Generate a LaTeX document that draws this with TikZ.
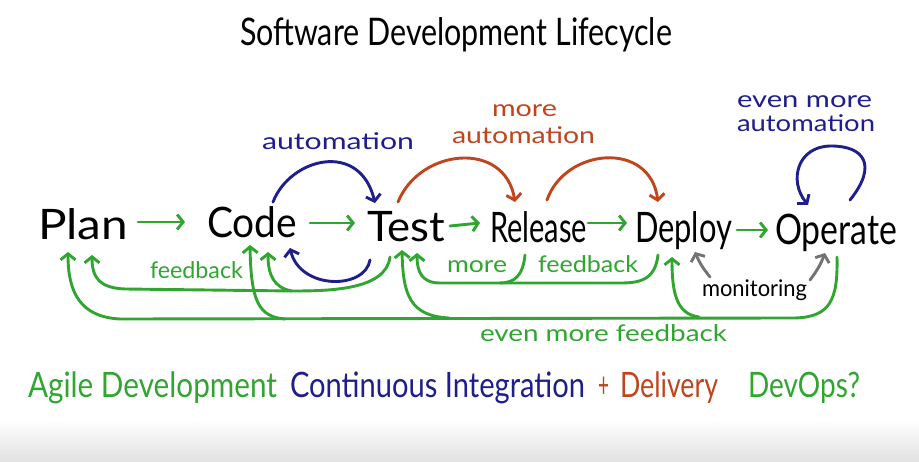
\documentclass[tikz,border=0pt]{standalone}
\usepackage{fontspec}
\setmainfont{Lato}
\usepackage{graphicx}
\usetikzlibrary{arrows.meta,calc}
\definecolor{hgreen}{RGB}{48,165,48}
\definecolor{hblue}{RGB}{30,30,140}
\definecolor{horange}{RGB}{192,68,28}
\definecolor{hgray}{RGB}{115,115,115}
\newcommand{\fitw}[2]{\resizebox{#1pt}{\height}{#2}}
\begin{document}
\begin{tikzpicture}[x=1pt,y=-1pt,
  every node/.style={inner sep=0pt,outer sep=0pt,anchor=base west},
  stage/.style={font=\fontsize{42}{42}\selectfont,text=black},
  lbl/.style={font=\fontsize{23}{23}\selectfont},
  big/.style={font=\fontsize{35}{35}\selectfont},
  tipb/.style={-{Straight Barb[length=6pt,width=15pt]}},
  fwd/.style={draw=hgreen,line width=2.9pt,line cap=round,tipb},
  fbk/.style={draw=hgreen,line width=2.9pt,line cap=round,line join=round},
  autob/.style={draw=hblue,line width=2.9pt,line cap=round,tipb},
  autoo/.style={draw=horange,line width=2.9pt,line cap=round,tipb},
  mon/.style={draw=hgray,line width=2.9pt,line cap=round,tipb}
]
\useasboundingbox (0,0) rectangle (919,462);
\fill[white] (0,0) rectangle (919,462);
\shade[top color=white,bottom color=black!12] (0,420) rectangle (919,462);

% title
\node[font=\fontsize{38}{38}\selectfont] (title) at (240,46) {\fitw{432}{Software Development Lifecycle}};

% stages
\node[stage] (plan)    at (38,240)  {\fitw{90}{Plan}};
\node[stage] (code)    at (207,238) {\fitw{90}{Code}};
\node[stage] (test)    at (367,242) {\fitw{78}{Test}};
\node[stage] (release) at (490,243) {\fitw{97}{Release}};
\node[stage] (deploy)  at (635,243) {\fitw{97}{Deploy}};
\node[stage] (operate) at (775,245) {\fitw{122}{Operate}};

% labels
\node[lbl,text=hblue]   (auto1) at (262,150) {\fitw{152}{automation}};
\node[lbl,text=horange] (more1) at (492,117) {\fitw{65}{more}};
\node[lbl,text=horange] (auto2) at (452,144) {\fitw{143}{automation}};
\node[lbl,text=hblue]   (even1) at (737,108) {\fitw{135}{even more}};
\node[lbl,text=hblue]   (auto3) at (737,132) {\fitw{138}{automation}};
\node[lbl,text=hgreen]  (fb1)   at (150,279) {\fitw{93}{feedback}};
\node[lbl,text=hgreen]  (more2) at (447,273) {\fitw{60}{more}};
\node[lbl,text=hgreen]  (fb2)   at (538,273) {\fitw{100}{feedback}};
\node[lbl,text=black]   (moni)  at (702,297) {\fitw{105}{monitoring}};
\node[lbl,text=hgreen]  (fb3)   at (480,342) {\fitw{247}{even more feedback}};

% bottom row
\node[big,text=hgreen]  (agile)  at (28,398)  {\fitw{249}{Agile Development}};
\node[big,text=hblue]   (ci)     at (290,398) {\fitw{295}{Continuous Integration}};
\node[big,text=horange] (plus)   at (598,398) {\fitw{11}{+}};
\node[big,text=horange] (deliv)  at (620,398) {\fitw{98}{Delivery}};
\node[big,text=hgreen]  (devops) at (748,398) {\fitw{112}{DevOps?}};

% forward arrows
\draw[fwd] ([shift={(10,-18)}]plan.base east) -- ([shift={(-22,-16)}]code.base west);
\draw[fwd] ([shift={(13,-15)}]code.base east) -- ([shift={(-12,-19)}]test.base west);
\draw[fwd] ([shift={(5,-16)}]test.base east) -- ([shift={(-10,-20)}]release.base west);
\draw[fwd] ([shift={(1,-20)}]release.base east) -- ([shift={(-8,-20)}]deploy.base west);
\draw[fwd] ([shift={(5,-13)}]deploy.base east) -- ([shift={(-7,-15)}]operate.base west);

% automation arcs
\draw[autob] ([shift={(-24,-36)}]code.base east) .. controls (290,158) and (360,140) .. ([shift={(8,-39)}]test.base west);
\draw[autob] ([shift={(3,18)}]test.base west) .. controls (365,290) and (300,290) .. ([shift={(-7,10)}]code.base east);
\draw[autoo] ([shift={(31,-40)}]test.base west) .. controls (420,148) and (505,140) .. ([shift={(25,-41)}]release.base west);
\draw[autoo] ([shift={(57,-43)}]release.base west) .. controls (565,148) and (650,140) .. ([shift={(23,-41)}]deploy.base west);
\draw[autob] ([shift={(75,-45)}]operate.base west) .. controls (878,165) and (864,146) .. (831,146)
   .. controls (798,146) and (788,180) .. ([shift={(33,-40)}]operate.base west);

% junctions
\coordinate (jin)  at (292,291);
\coordinate (jc)   at (285,319);
\coordinate (jt)   at (449,318);
\coordinate (jd)   at (699,317);
\coordinate (jr)   at (500,283);

% feedback: test -> plan (inner), branch to code
\draw[fbk,tipb] ([shift={(23,15)}]test.base west) .. controls (386,290) and (330,291) .. (jin)
   -- (125,289) .. controls (100,288) and (92,278) .. ([shift={(54,15)}]plan.base west);
\draw[fbk,tipb] (jin) .. controls (274,288) and (268,275) .. ([shift={(61,14)}]code.base west);

% even more feedback: operate -> plan, with branches
\draw[fbk,tipb] ([shift={(62,12)}]operate.base west) .. controls (838,300) and (830,317) .. (795,318)
   -- (120,319) .. controls (80,317) and (68,292) .. ([shift={(30,12)}]plan.base west);
\draw[fbk,tipb] (jc) .. controls (258,317) and (251,300) .. ([shift={(43,7)}]code.base west);
\draw[fbk,tipb] (jt) .. controls (410,316) and (403,295) .. ([shift={(35,8)}]test.base west);
\draw[fbk,tipb] (jd) .. controls (676,314) and (672,292) .. ([shift={(37,14)}]deploy.base west);

% more feedback: deploy -> test, release branch
\draw[fbk,tipb] ([shift={(23,12)}]deploy.base west) .. controls (655,280) and (640,283) .. (620,283)
   -- (440,283) .. controls (422,283) and (417,272) .. ([shift={(50,11)}]test.base west);
\draw[fbk] ([shift={(35,12)}]release.base west) .. controls (523,275) and (515,283) .. (jr);

% monitoring
\draw[mon] ([shift={(8,-20)}]moni.base west) to[bend left=8] ([shift={(60,9)}]deploy.base west);
\draw[mon] ([shift={(108,-17)}]moni.base west) to[bend right=8] ([shift={(50,8)}]operate.base west);
\end{tikzpicture}
\end{document}
